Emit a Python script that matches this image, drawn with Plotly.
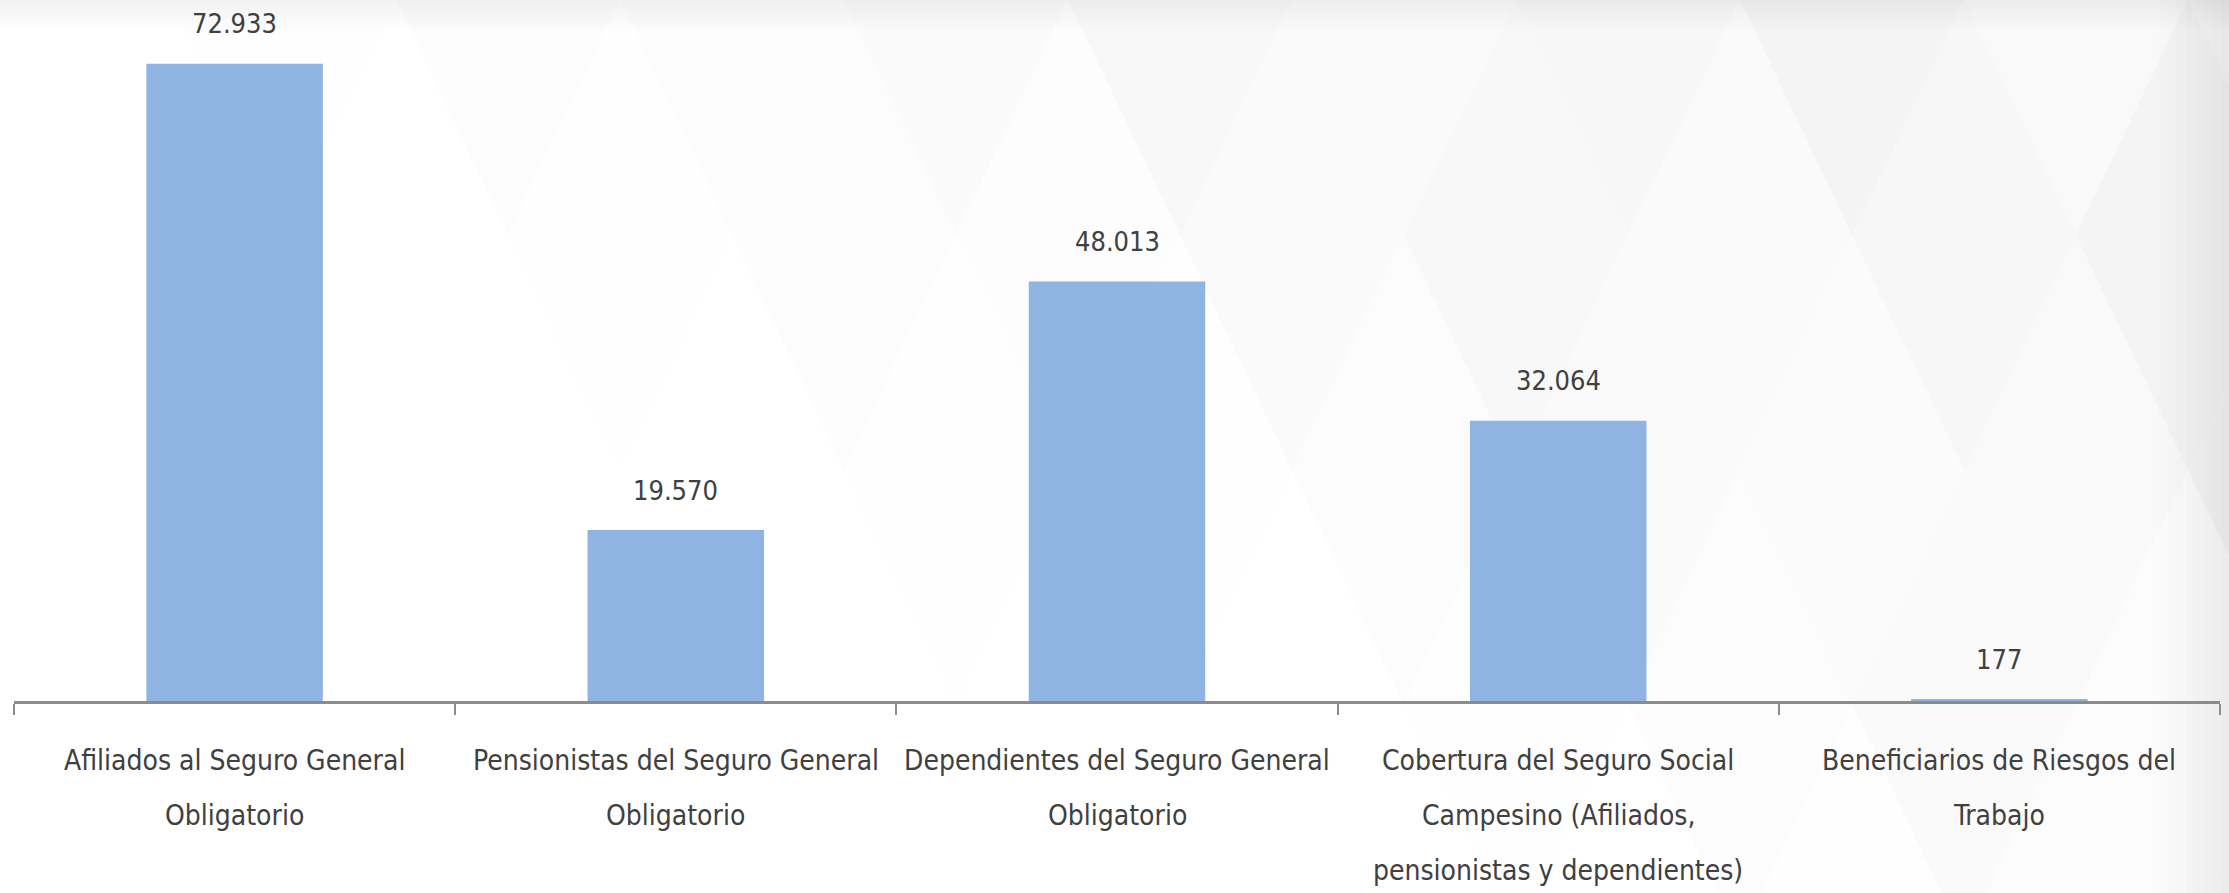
import plotly.graph_objects as go

categories = [
    "Afiliados al Seguro General Obligatorio",
    "Pensionistas del Seguro General Obligatorio",
    "Dependientes del Seguro General Obligatorio",
    "Cobertura del Seguro Social Campesino (Afiliados, pensionistas y dependientes)",
    "Beneficiarios de Riesgos del Trabajo",
]
label_lines = [
    ["Afiliados al Seguro General", "Obligatorio"],
    ["Pensionistas del Seguro General", "Obligatorio"],
    ["Dependientes del Seguro General", "Obligatorio"],
    ["Cobertura del Seguro Social", "Campesino (Afiliados,", "pensionistas y dependientes)"],
    ["Beneficiarios de Riesgos del", "Trabajo"],
]
values = [72933, 19570, 48013, 32064, 177]
value_labels = ["72.933", "19.570", "48.013", "32.064", "177"]

W, H = 2229, 893
ML, MR, MT, MB = 14, 9, 2, 192
FONT = "DejaVu Sans Condensed, Liberation Sans Narrow, sans-serif"
TXT = "#404040"

fig = go.Figure()
fig.add_trace(go.Bar(
    x=categories, y=values,
    width=0.4,
    marker=dict(color="#8FB3E2", line=dict(width=0)),
    hoverinfo="skip",
))

# data labels
for c, v, t in zip(categories, values, value_labels):
    fig.add_annotation(x=c, y=v, xref="x", yref="y", text=t, showarrow=False,
                       yanchor="middle", yshift=40,
                       font=dict(family=FONT, size=27, color=TXT))

# category labels (one annotation per line for Excel-like line spacing)
for c, lines in zip(categories, label_lines):
    for i, ln in enumerate(lines):
        fig.add_annotation(x=c, y=0, xref="x", yref="paper", text=ln, showarrow=False,
                           yanchor="middle", yshift=-59 - 55 * i,
                           font=dict(family=FONT, size=28, color=TXT))

# subtle diamond background pattern
pw = W - ML - MR
ph = H - MT - MB
def px2paper(px, py):
    return (px - ML) / pw, (H - MB - py) / ph

hw, hh = 112, 235
shapes = []
for j in range(-1, 6):
    for i in range(-1, 12):
        cx = 60 + i * 2 * hw + (j % 2) * hw
        cy = j * hh
        s = (cx - 300) / 1500.0 - (cy - 100) / 900.0
        s = max(0.0, min(1.0, s))
        if s <= 0.02:
            continue
        a = 0.065 * s * (0.55 + 0.45 * ((i + 2 * j) % 3) / 2)
        pts = [px2paper(cx, cy - hh), px2paper(cx + hw, cy), px2paper(cx, cy + hh), px2paper(cx - hw, cy)]
        path = "M " + " L ".join(f"{x:.4f},{y:.4f}" for x, y in pts) + " Z"
        shapes.append(dict(type="path", path=path, xref="paper", yref="paper",
                           fillcolor=f"rgba(90,90,90,{a:.3f})", line=dict(width=0), layer="below"))
# gray gradient at right edge
for k in range(8):
    x0, _ = px2paper(2229 - 70 + k * 9, 0)
    shapes.append(dict(type="rect", xref="paper", yref="paper", x0=x0, x1=px2paper(2229, 0)[0],
                       y0=px2paper(0, H)[1], y1=px2paper(0, 0)[1],
                       fillcolor="rgba(120,120,120,0.012)", line=dict(width=0), layer="below"))
# light gray at top edge
for k in range(6):
    shapes.append(dict(type="rect", xref="paper", yref="paper", x0=px2paper(0, 0)[0], x1=px2paper(W, 0)[0],
                       y0=px2paper(0, 4 + k * 5)[1], y1=px2paper(0, 0)[1],
                       fillcolor="rgba(120,120,120,0.01)", line=dict(width=0), layer="below"))

fig.update_layout(
    width=W, height=H,
    margin=dict(l=ML, r=MR, t=MT, b=MB),
    paper_bgcolor="white", plot_bgcolor="rgba(0,0,0,0)",
    showlegend=False,
    shapes=shapes,
    xaxis=dict(
        range=[-0.5, 4.5], showticklabels=False, showgrid=False,
        showline=True, linecolor="#8C8C8C", linewidth=3,
        ticks="outside", tickson="boundaries", ticklen=11, tickwidth=2, tickcolor="#8C8C8C",
        zeroline=False, fixedrange=True,
    ),
    yaxis=dict(range=[0, 80000], visible=False, showgrid=False, zeroline=False, fixedrange=True),
)

fig.write_html("out.html", config={"displayModeBar": False},
               post_script="document.body.style.margin='0';document.body.style.overflow='hidden';")
